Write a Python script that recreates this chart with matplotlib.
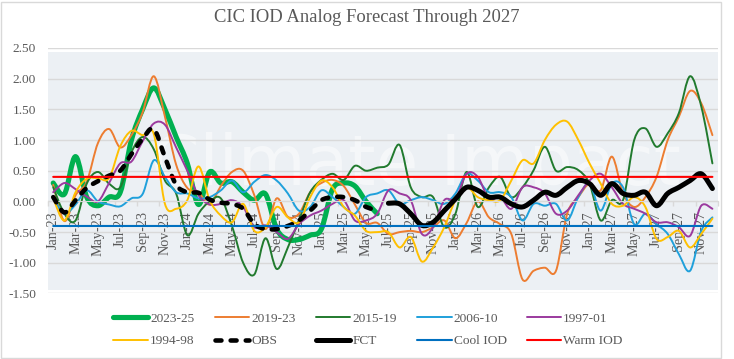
import numpy as np
import matplotlib
matplotlib.use("Agg")
import matplotlib.pyplot as plt
from matplotlib.path import Path
from matplotlib.patches import PathPatch, Rectangle
from matplotlib.lines import Line2D

# month categories Jan-23 .. Dec-27
month_names = ["Jan", "Feb", "Mar", "Apr", "May", "Jun",
               "Jul", "Aug", "Sep", "Oct", "Nov", "Dec"]
months = [f"{m}-{y}" for y in range(23, 28) for m in month_names]

s2023_25 = [0.30, 0.12, 0.73, 0.07, -0.07, 0.07, 0.15, 1.00, 1.50, 1.85,
            1.50, 1.05, 0.62, -0.05, 0.48, 0.30, 0.32, 0.15, 0.02, 0.12,
            -0.45, -0.62, -0.62, -0.55, -0.45, 0.20, 0.30, 0.25, 0.00, -0.20]
s2019_23 = [0.27, -0.32, 0.10, 0.32, 0.95, 1.18, 0.88, 1.08, 1.45, 2.04,
            1.38, 0.60, 0.22, 0.15, -0.05, 0.25, 0.48, 0.50, 0.10, -0.45,
            0.05, -0.25, -0.20, 0.15, 0.30, 0.35, 0.25, -0.05, -0.35, -0.35,
            -0.53, -0.50, -0.48, -0.50, -0.42, -0.31, -0.60, -0.35, 0.00, -0.26,
            -0.37, -0.53, -1.27, -1.13, -1.08, -1.13, -0.20, 0.07, 0.29, 0.18,
            0.73, 0.13, -0.09, 0.07, 0.40, 1.00, 1.38, 1.80, 1.60, 1.08]
s2015_19 = [0.23, -0.20, -0.31, 0.29, 0.48, 0.29, 0.23, 0.80, 1.05, 0.85,
            0.34, 0.13, -0.55, -0.20, 0.00, 0.05, -0.40, -1.00, -1.19, -0.60,
            -1.10, -0.75, -0.30, 0.15, 0.35, 0.45, 0.35, 0.58, 0.50, 0.55,
            0.60, 0.92, 0.23, 0.07, 0.07, -0.42, -0.20, 0.48, -0.09, 0.23,
            0.40, 0.07, 0.23, 0.51, 0.89, 0.50, 0.56, 0.51, 0.29, -0.31,
            0.02, 0.02, 1.00, 1.19, 0.89, 1.11, 1.44, 2.04, 1.55, 0.62]
s2006_10 = [0.05, -0.20, -0.05, 0.18, 0.00, -0.05, -0.08, 0.05, 0.12, 0.67,
            0.40, 0.15, 0.13, 0.05, 0.07, 0.18, 0.34, 0.15, 0.32, 0.43,
            0.34, 0.13, -0.15, -0.09, 0.18, 0.07, -0.09, -0.20, 0.07, 0.13,
            0.18, -0.04, 0.02, 0.07, 0.02, -0.04, 0.13, 0.45, 0.34, 0.15,
            0.15, 0.07, -0.31, -0.04, -0.07, -0.04, -0.31, 0.07, 0.29, -0.15,
            0.29, 0.23, -0.37, -0.20, -0.37, -0.53, -0.86, -1.13, -0.48, -0.26]
s1997_01 = [0.15, 0.30, 0.20, 0.08, 0.00, 0.30, 0.62, 0.65, 0.98, 1.27,
            1.25, 0.88, 0.50, 0.10, -0.05, -0.04, 0.02, -0.09, -0.42, -0.39,
            -0.50, -0.61, -0.37, -0.23, -0.15, -0.04, 0.02, -0.31, -0.31, -0.20,
            0.18, 0.13, 0.02, -0.53, -0.42, 0.02, 0.04, 0.45, 0.40, 0.04,
            0.07, -0.12, 0.23, 0.23, 0.13, -0.20, -0.15, 0.10, 0.34, 0.45,
            0.23, -0.04, -0.12, -0.20, -0.34, -0.34, -0.42, -0.56, -0.07, -0.12]
s1994_98 = [0.05, -0.31, 0.15, 0.37, 0.38, 0.38, 0.90, 1.15, 1.08, 1.10,
            -0.04, -0.12, 0.02, 0.57, 0.02, -0.23, -0.34, -0.04, -0.48, -0.42,
            -0.09, -0.26, -0.34, 0.07, 0.34, 0.23, -0.09, -0.23, -0.48, -0.50,
            -0.50, -0.75, -0.58, -0.98, -0.75, -0.42, 0.02, 0.23, 0.07, 0.02,
            0.02, 0.34, 0.67, 0.62, 1.00, 1.25, 1.30, 1.00, 0.62, 0.29,
            -0.04, -0.07, 0.07, -0.09, -0.61, -0.58, -0.48, -0.75, -0.53, -0.28]
obs = [0.07, -0.18, 0.02, 0.22, 0.33, 0.42, 0.50, 0.77, 1.02, 1.18,
       0.72, 0.27, 0.15, 0.14, 0.03, -0.02, -0.04, -0.12, -0.37, -0.45,
       -0.45, -0.40, -0.31, -0.15, 0.02, 0.07, 0.07, 0.02, -0.09, -0.15]
fct = [-0.03, -0.04, -0.20, -0.39, -0.34, -0.15, 0.04, 0.23, 0.18, 0.07,
       0.07, -0.04, -0.09, 0.02, 0.15, 0.10, 0.23, 0.34, 0.29, 0.10,
       0.29, 0.13, 0.10, 0.15, -0.07, 0.13, 0.23, 0.34, 0.45, 0.21]
fct_start = 30
cool_iod = -0.4
warm_iod = 0.4

GRAY_TXT = "#595959"
GRID = "#D9D9D9"
SERIF = ["Liberation Serif", "DejaVu Serif"]


def smooth_path(xs, ys):
    # Excel-style smoothed line: cubic bezier segments through the points
    pts = np.column_stack([np.asarray(xs, float), np.asarray(ys, float)])
    n = len(pts)
    verts = [pts[0]]
    codes = [Path.MOVETO]
    for k in range(n - 1):
        p0 = pts[k - 1] if k > 0 else pts[k]
        p1, p2 = pts[k], pts[k + 1]
        p3 = pts[k + 2] if k + 2 < n else pts[k + 1]
        verts += [p1 + (p2 - p0) / 6, p2 - (p3 - p1) / 6, p2]
        codes += [Path.CURVE4] * 3
    return Path(verts, codes)


fig = plt.figure(figsize=(7.34, 3.59), dpi=100)
ax = fig.add_axes([0.0649, 0.1825, 0.9133, 0.6838])

# move the category axis to y=0 first (this resets the ticks)
for side in ["top", "right", "left"]:
    ax.spines[side].set_visible(False)
ax.spines["bottom"].set_position(("data", 0))
ax.spines["bottom"].set_color(GRID)

ax.set_xlim(-0.5, len(months) - 0.5)
ax.set_ylim(-1.5, 2.5)

# plot area shading and watermark
ax.add_patch(Rectangle((-0.5, -1.44), len(months), 3.88, facecolor="#ECF0F4",
                       edgecolor="none", zorder=0))
ax.text(0.55, 0.52, "Climate Impact", transform=ax.transAxes, fontsize=50,
        color="white", alpha=0.5, ha="center", va="center", zorder=0.5)

ax.set_yticks(np.arange(-1.5, 2.51, 0.5))
ax.set_yticklabels([f"{v:.2f}" for v in np.arange(-1.5, 2.51, 0.5)],
                   fontsize=9.6, family=SERIF, color=GRAY_TXT)
ax.grid(axis="y", color=GRID, lw=1.0, zorder=0.6)
ax.set_axisbelow(True)

ax.set_xticks(range(0, len(months), 2))
ax.set_xticklabels(months[::2], rotation=90, fontsize=10.2, family=SERIF,
                   color=GRAY_TXT)
ax.set_xticks(np.arange(-0.5, len(months), 2), minor=True)
ax.tick_params(axis="x", which="major", length=0, pad=7.2)
ax.tick_params(axis="x", which="minor", length=3.5, color=GRID, width=1)
ax.tick_params(axis="y", length=0, pad=8.4)

x_all = np.arange(len(months))
series = [
    ("2023-25", x_all[:len(s2023_25)], s2023_25, "#00B050", 3.7, "-"),
    ("2019-23", x_all, s2019_23, "#ED7D31", 1.4, "-"),
    ("2015-19", x_all, s2015_19, "#217A2E", 1.4, "-"),
    ("2006-10", x_all, s2006_10, "#1FA0DB", 1.4, "-"),
    ("1997-01", x_all, s1997_01, "#9B3A9E", 1.4, "-"),
    ("1994-98", x_all, s1994_98, "#FFC000", 1.4, "-"),
    ("OBS", x_all[:len(obs)], obs, "black", 3.3, (0, (1.3, 2.0))),
    ("FCT", x_all[fct_start:fct_start + len(fct)], fct, "black", 3.6, "-"),
    ("Cool IOD", x_all, [cool_iod] * len(months), "#0070C0", 1.5, "-"),
    ("Warm IOD", x_all, [warm_iod] * len(months), "#FF0000", 1.5, "-"),
]

handles = []
for z, (name, xs, ys, col, lw, ls) in enumerate(series):
    patch = PathPatch(smooth_path(xs, ys), fill=False, edgecolor=col, lw=lw,
                      linestyle=ls, capstyle="round", joinstyle="round",
                      zorder=2 + z * 0.1)
    ax.add_patch(patch)
    handles.append(Line2D([], [], color=col, lw=lw, linestyle=ls,
                          solid_capstyle="round", dash_capstyle="round",
                          label=name))

# legend is filled column by column, so interleave the two rows
order = [0, 5, 1, 6, 2, 7, 3, 8, 4, 9]
fig.legend([handles[i] for i in order], [handles[i].get_label() for i in order],
           ncol=5, loc="center", bbox_to_anchor=(368 / 734, 1 - 330 / 359),
           frameon=False, prop={"family": SERIF, "size": 9.6},
           labelcolor=GRAY_TXT, handlelength=2.6, handletextpad=0.15,
           columnspacing=1.5, labelspacing=0.75)

fig.text(367 / 734, 1 - 18 / 359, "CIC IOD Analog Forecast Through 2027",
         ha="center", va="center", family=SERIF, fontsize=13.4, color=GRAY_TXT)

# outer chart border
fig.add_artist(Rectangle((1 / 734, 1 / 359), 720 / 734, 356 / 359,
                         transform=fig.transFigure, fill=False,
                         edgecolor=GRID, lw=1))

fig.savefig("out.png", dpi=100)
